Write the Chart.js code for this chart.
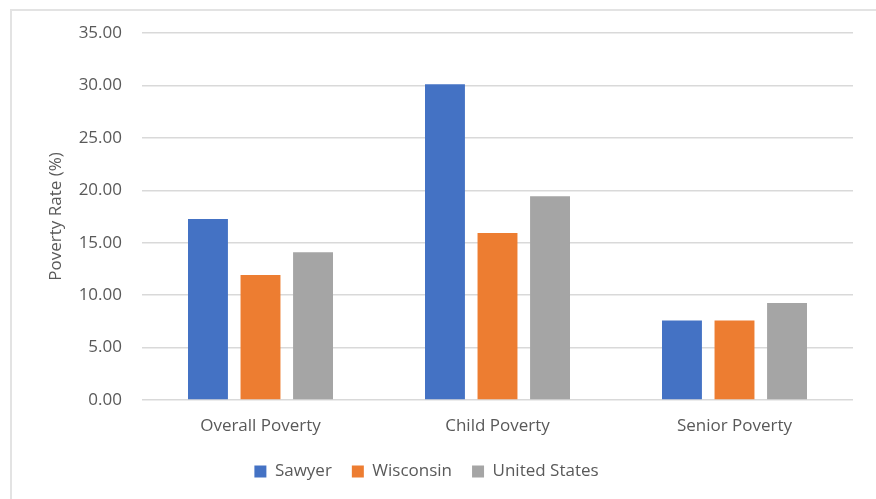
<!DOCTYPE html>
<html>
<head>
<meta charset="utf-8">
<script src="https://cdn.jsdelivr.net/npm/chart.js@4"></script>
<style>
  html, body { margin: 0; padding: 0; background: #fff; }
  #wrap { position: relative; width: 876px; height: 499px; }
  #frame { position: absolute; left: 10px; top: 9px; right: -5px; bottom: -5px; border: 2px solid #e3e3e3; }
  canvas { position: absolute; left: 0; top: 0; }
</style>
</head>
<body>
<div id="wrap">
  <div id="frame"></div>
  <canvas id="chart" width="876" height="499"></canvas>
</div>
<script>
const categories = ['Overall Poverty', 'Child Poverty', 'Senior Poverty'];
const sawyer = [17.27, 30.11, 7.58];
const wisconsin = [11.91, 15.93, 7.58];
const unitedStates = [14.08, 19.44, 9.24];
const textColor = '#595959';
const font = { family: "'Open Sans', sans-serif", size: 17 };

new Chart(document.getElementById('chart'), {
    type: 'bar',
    data: {
        labels: categories,
        datasets: [
            { label: 'Sawyer', data: sawyer, backgroundColor: '#4472C4' },
            { label: 'Wisconsin', data: wisconsin, backgroundColor: '#ED7D31' },
            { label: 'United States', data: unitedStates, backgroundColor: '#A5A5A5' }
        ]
    },
    options: {
        responsive: false,
        animation: false,
        datasets: { bar: { categoryPercentage: 0.665, barPercentage: 0.76 } },
        layout: { padding: { left: 0, right: 23, top: 33, bottom: 9 } },
        plugins: {
            tooltip: { enabled: false },
            legend: {
                position: 'bottom',
                labels: { color: textColor, font: font, boxWidth: 12, boxHeight: 12, padding: 20 }
            }
        },
        scales: {
            x: {
                grid: { display: false },
                border: { display: false },
                ticks: { color: textColor, font: font, padding: 8 },
                afterFit: s => { s.height = 43; }
            },
            y: {
                min: 0, max: 35,
                ticks: { stepSize: 5, color: textColor, font: font, padding: 20, callback: v => v.toFixed(2) },
                grid: { color: '#d9d9d9', lineWidth: 1.5, drawTicks: false },
                border: { display: false },
                title: { display: true, text: 'Poverty Rate (%)', color: textColor, font: font, padding: { top: 46, bottom: 0 } },
                afterFit: s => { s.width = 142; }
            }
        }
    }
});
</script>
</body>
</html>
